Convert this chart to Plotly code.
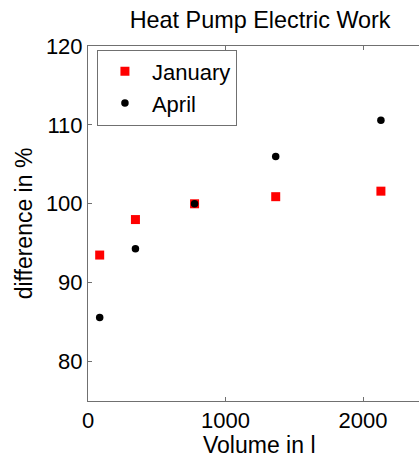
import plotly.graph_objects as go

volume = [85, 345, 775, 1365, 2130]
january = [93.5, 98.0, 100.0, 100.9, 101.6]
april = [85.6, 94.3, 100.0, 106.0, 110.6]

x_ticks = [0, 1000, 2000]
y_ticks = [80, 90, 100, 110, 120]

FONT = "Liberation Sans, Arial, sans-serif"
AX = "#707070"
X_MAX_FULL = 2500  # full axis extent (partly outside the window)

fig = go.Figure()
fig.add_trace(go.Scatter(x=volume, y=january, mode="markers", name="January",
                         marker=dict(symbol="square", size=9, color="#ff0000")))
fig.add_trace(go.Scatter(x=volume, y=april, mode="markers", name="April",
                         marker=dict(symbol="circle", size=7.5, color="#000000")))

fig.update_layout(
    width=419, height=457,
    margin=dict(l=88, r=0, t=46, b=56, autoexpand=False),
    paper_bgcolor="white", plot_bgcolor="white",
    font=dict(family=FONT, size=22, color="black"),
    title=dict(text="Heat Pump Electric Work", font=dict(size=23.4, color="black"),
               xref="paper", x=0.52, xanchor="center",
               yref="container", y=1 - 20 / 457, yanchor="middle"),
    showlegend=True,
    legend=dict(x=0.027, y=0.99, xanchor="left", yanchor="top",
                bordercolor=AX, borderwidth=1, bgcolor="white",
                font=dict(size=22), itemwidth=44, tracegroupgap=0),
    annotations=[dict(text="Volume in l", xref="x", x=X_MAX_FULL / 2,
                      yref="paper", y=0, yshift=-29, xanchor="center",
                      yanchor="top", showarrow=False, font=dict(size=23))],
)
fig.update_xaxes(range=[0, 2407], tickvals=x_ticks, ticks="inside", ticklen=4,
                 tickcolor=AX, showline=True, linecolor=AX, linewidth=1,
                 mirror="ticks", showgrid=False, zeroline=False,
                 tickfont=dict(size=22), automargin=False)
fig.update_yaxes(range=[75, 120], tickvals=y_ticks, ticks="inside", ticklen=4,
                 tickcolor=AX, showline=True, linecolor=AX, linewidth=1,
                 mirror=False, showgrid=False, zeroline=False,
                 tickfont=dict(size=22), automargin=False,
                 title=dict(text="difference in %", standoff=6, font=dict(size=23)))

fig.write_html("out.html", config={"displayModeBar": False},
               post_script="document.body.style.margin='0';document.body.style.overflow='hidden';")
